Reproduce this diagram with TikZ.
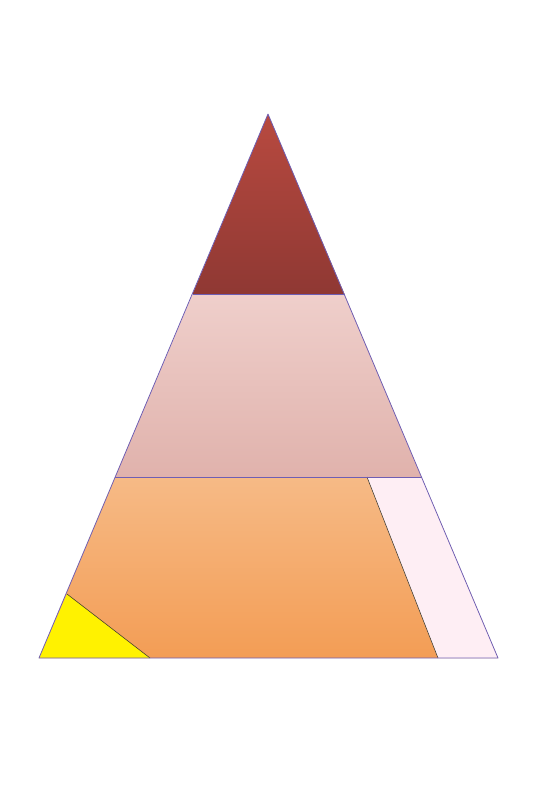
\documentclass[tikz,border=0pt]{standalone}
\usepackage{tikz}

\definecolor{topRedA}{HTML}{B84A40}
\definecolor{topRedB}{HTML}{8F3833}
\definecolor{midPinkA}{HTML}{EFCFCB}
\definecolor{midPinkB}{HTML}{E0B2AC}
\definecolor{lowOrangeA}{HTML}{F6BA86}
\definecolor{lowOrangeB}{HTML}{F39D55}
\definecolor{sliverPink}{HTML}{FEEEF4}
\definecolor{cornerYellow}{HTML}{FFF200}
\definecolor{edgeBlue}{HTML}{6E5EB4}
\definecolor{innerEdge}{HTML}{3E3A30}

\tikzset{
  outline/.style={draw=edgeBlue, line width=1.1pt, line join=round},
  inner cut/.style={draw=innerEdge, line width=0.8pt}
}

\begin{document}
\begin{tikzpicture}[x=0.05cm,y=-0.05cm]

% Canvas in pixel units (546 x 800), y grows downward
\path[use as bounding box] (0,0) rectangle (546,800);

% Corner points of the pyramid and its layer cuts
\coordinate (apex)      at (268,114);
\coordinate (baseLeft)  at (39,658);
\coordinate (baseRight) at (498,658);
\coordinate (upperL)    at (192.5,294);
\coordinate (upperR)    at (344.5,294);
\coordinate (lowerL)    at (115,477);
\coordinate (lowerR)    at (421.5,477);

% Points of the pink strip and the yellow corner
\coordinate (stripTop)  at (367,477);
\coordinate (stripBot)  at (438,658);
\coordinate (cornerTop) at (67,594);
\coordinate (cornerBot) at (150,658);

% --- Layers ---
% Top layer (dark red)
\shade[top color=topRedA, bottom color=topRedB] (apex) -- (upperR) -- (upperL) -- cycle;

% Middle layer (soft pink)
\shade[top color=midPinkA, bottom color=midPinkB] (upperL) -- (upperR) -- (lowerR) -- (lowerL) -- cycle;

% Bottom layer (orange)
\shade[top color=lowOrangeA, bottom color=lowOrangeB] (lowerL) -- (lowerR) -- (baseRight) -- (baseLeft) -- cycle;

% Pink strip on the right of the bottom layer
\fill[sliverPink] (stripTop) -- (lowerR) -- (baseRight) -- (stripBot) -- cycle;
\draw[inner cut] (stripTop) -- (stripBot);

% Yellow corner on the left
\fill[cornerYellow] (baseLeft) -- (cornerTop) -- (cornerBot) -- cycle;
\draw[inner cut] (cornerTop) -- (cornerBot);

% --- Outlines ---
\draw[outline] (apex) -- (baseRight) -- (baseLeft) -- cycle;
\draw[outline] (upperL) -- (upperR);
\draw[outline] (lowerL) -- (lowerR);

\end{tikzpicture}
\end{document}
